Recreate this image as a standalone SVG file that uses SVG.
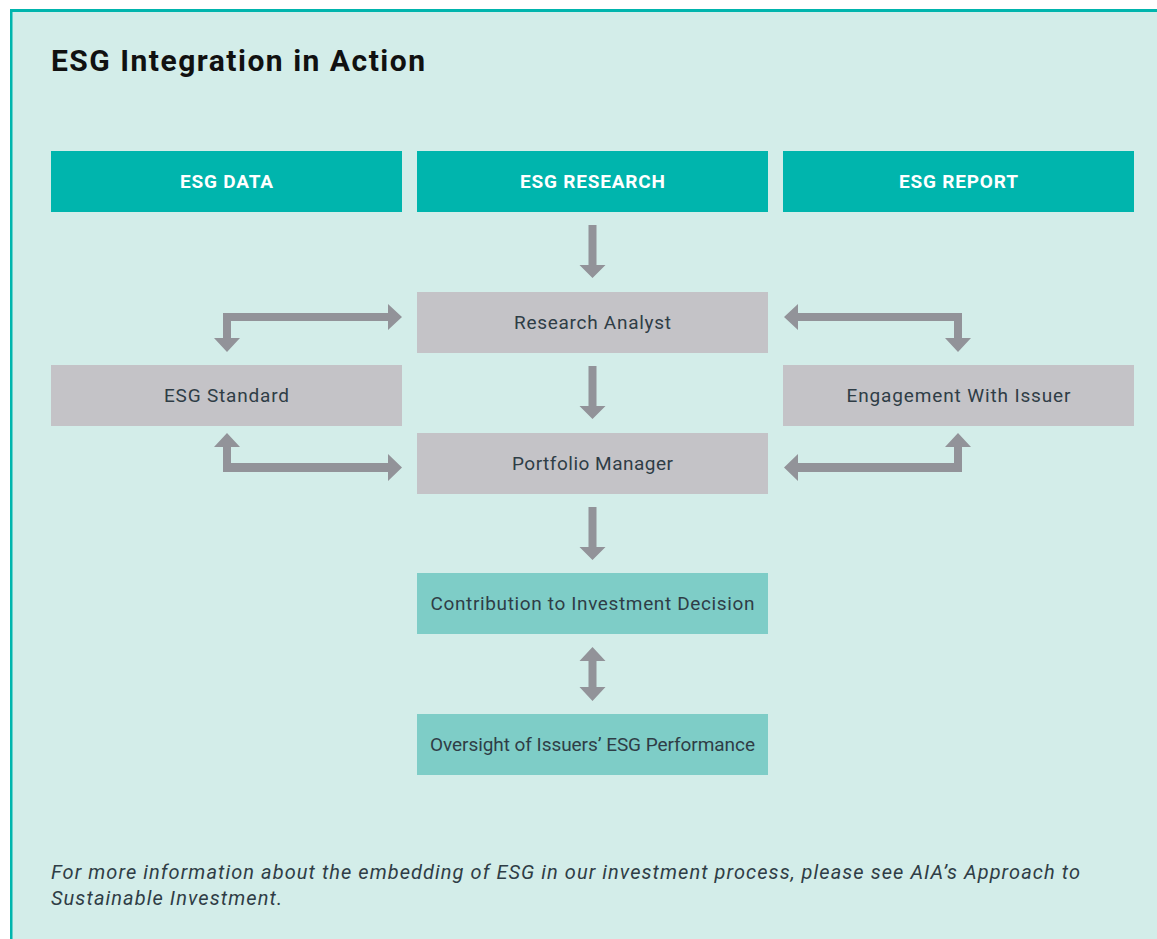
<svg xmlns="http://www.w3.org/2000/svg" width="1157" height="939" viewBox="0 0 1157 939">
<style>
.hdr{fill:#00b5ad}
.hdrt{fill:#ffffff;font-family:Roboto,"Liberation Sans",sans-serif;font-weight:700;font-size:19px;text-anchor:middle}
.gray{fill:#c4c3c7}
.teal{fill:#7ecdc7}
.nt{fill:#2f3d46;font-family:Roboto,"Liberation Sans",sans-serif;font-size:19px;text-anchor:middle}
.arr{fill:#929399}
.ft{fill:#2f3d46;font-family:Roboto,"Liberation Sans",sans-serif;font-style:italic;font-size:20px}
</style>
<rect x="0" y="0" width="1157" height="939" fill="#ffffff"/>
<rect x="11" y="10" width="1146" height="929" fill="#d3ede9"/>
<rect x="10" y="9" width="1147" height="3" fill="#00b5ad"/>
<rect x="10" y="9" width="2.5" height="930" fill="#00b5ad"/>
<text x="51" y="71" font-family="Roboto,'Liberation Sans',sans-serif" font-weight="700" font-size="30" fill="#111111" textLength="374" lengthAdjust="spacing">ESG Integration in Action</text>

<g id="hdr-data"><rect class="hdr" x="51" y="151" width="351" height="61"/><text class="hdrt" x="226.5" y="188" textLength="93" lengthAdjust="spacing">ESG DATA</text></g>
<g id="hdr-research"><rect class="hdr" x="417" y="151" width="351" height="61"/><text class="hdrt" x="592.5" y="188" textLength="145" lengthAdjust="spacing">ESG RESEARCH</text></g>
<g id="hdr-report"><rect class="hdr" x="783" y="151" width="351" height="61"/><text class="hdrt" x="958.5" y="188" textLength="119" lengthAdjust="spacing">ESG REPORT</text></g>

<g id="research-analyst"><rect class="gray" x="417" y="292" width="351" height="61"/><text class="nt" x="592.5" y="329" textLength="157" lengthAdjust="spacing">Research Analyst</text></g>
<g id="esg-standard"><rect class="gray" x="51" y="365" width="351" height="61"/><text class="nt" x="226.5" y="402" textLength="125" lengthAdjust="spacing">ESG Standard</text></g>
<g id="engagement"><rect class="gray" x="783" y="365" width="351" height="61"/><text class="nt" x="958.5" y="402" textLength="224" lengthAdjust="spacing">Engagement With Issuer</text></g>
<g id="portfolio-manager"><rect class="gray" x="417" y="433" width="351" height="61"/><text class="nt" x="592.5" y="470" textLength="161" lengthAdjust="spacing">Portfolio Manager</text></g>
<g id="contribution"><rect class="teal" x="417" y="573" width="351" height="61"/><text class="nt" x="592.5" y="610" textLength="324" lengthAdjust="spacing">Contribution to Investment Decision</text></g>
<g id="oversight"><rect class="teal" x="417" y="714" width="351" height="61"/><text class="nt" x="592.5" y="751" textLength="325" lengthAdjust="spacing">Oversight of Issuers’ ESG Performance</text></g>

<g id="connectors" class="arr">
<path d="M588.5 225 H596.5 V265 H605.5 L592.5 278 L579.5 265 H588.5 Z"/>
<path d="M588.5 366 H596.5 V406 H605.5 L592.5 419 L579.5 406 H588.5 Z"/>
<path d="M588.5 507 H596.5 V547 H605.5 L592.5 560 L579.5 547 H588.5 Z"/>
<path d="M592.5 647 L605.5 661 H596.5 V687 H605.5 L592.5 701 L579.5 687 H588.5 V661 H579.5 Z"/>
<path d="M223 313 H388 V304 L402 317 L388 330 V321 H231 V338 H240 L227 352 L214 338 H223 Z"/>
<path d="M227 433 L240 447 H231 V463 H388 V454 L402 467.5 L388 481 V472 H223 V447 H214 Z"/>
<path d="M962 313 H798 V304 L784 317 L798 330 V321 H954 V338 H945 L958 352 L971 338 H962 Z"/>
<path d="M958 433 L971 447 H962 V472 H798 V481 L784 467.5 L798 454 V463 H954 V447 H945 Z"/>
</g>

<text class="ft" x="51" y="879" textLength="1029" lengthAdjust="spacing">For more information about the embedding of ESG in our investment process, please see AIA’s Approach to</text>
<text class="ft" x="51" y="905" textLength="231" lengthAdjust="spacing">Sustainable Investment.</text>
</svg>
